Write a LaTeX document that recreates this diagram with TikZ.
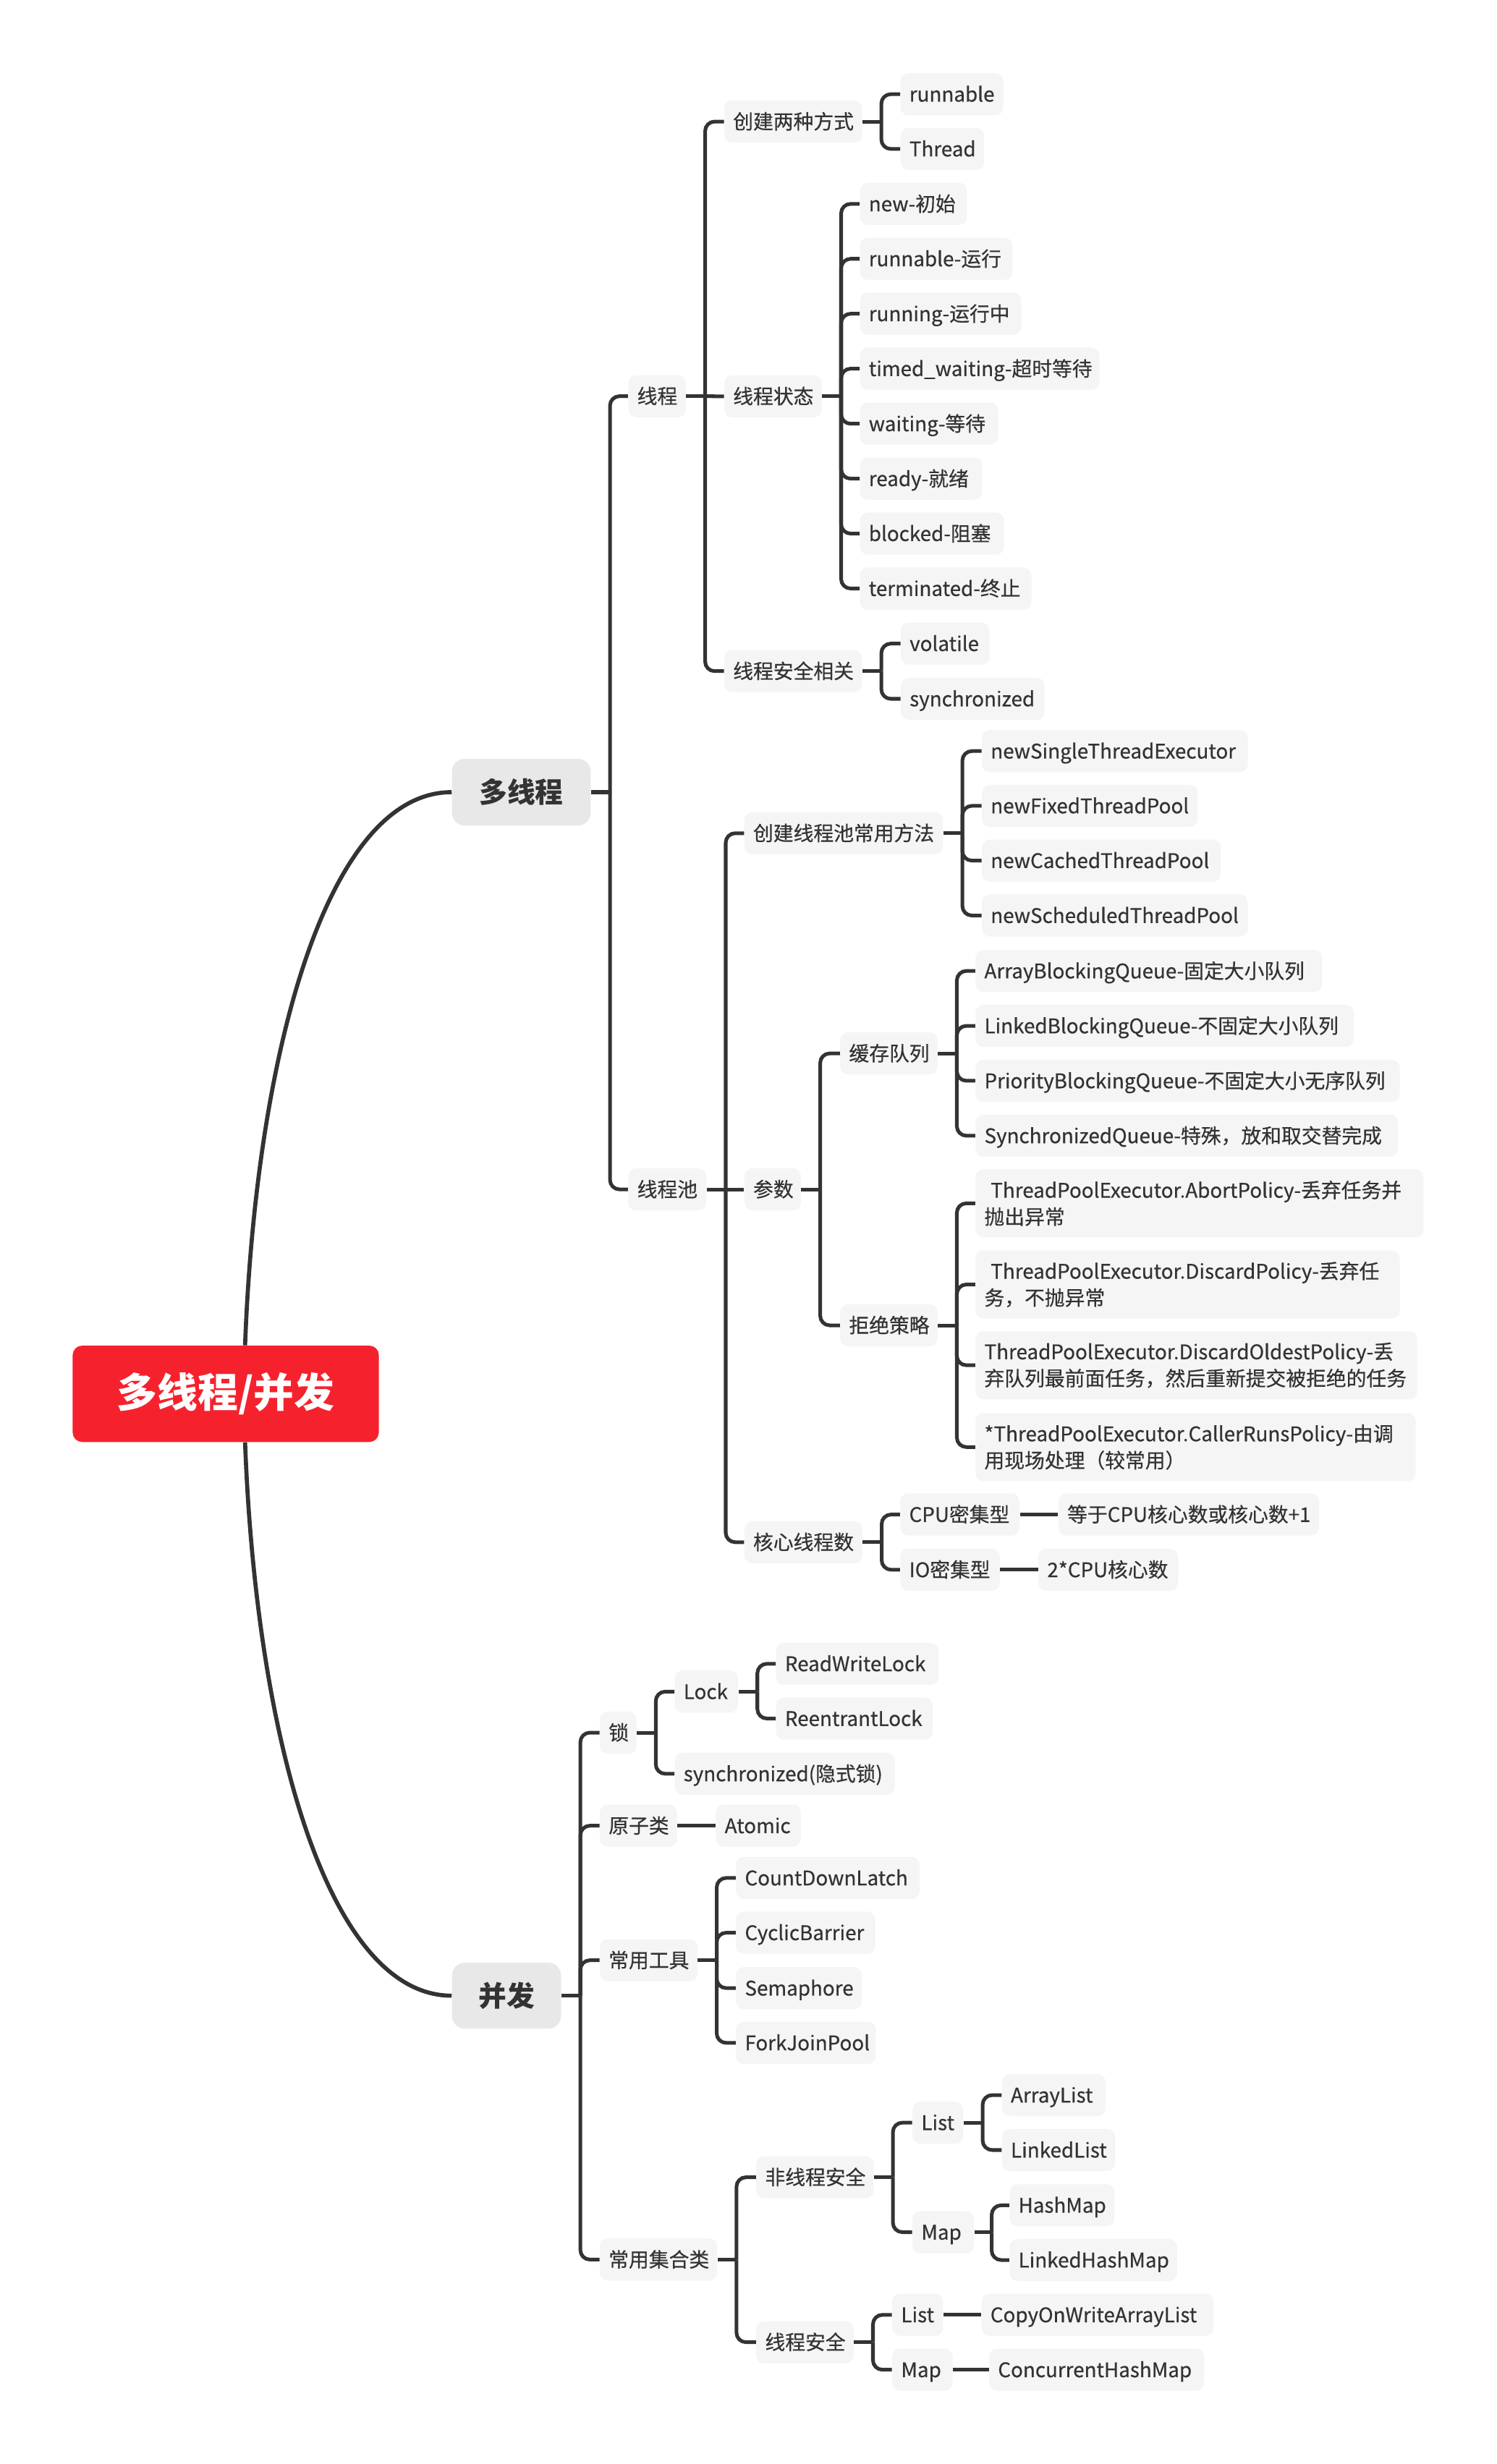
\documentclass[tikz,border=0pt]{standalone}
\usepackage{fontspec}
\setmainfont{Noto Sans CJK SC}
\newfontfamily\medfam[FakeBold=0.5]{Noto Sans CJK SC}
\definecolor{linec}{HTML}{333333}
\definecolor{txtc}{HTML}{333333}
\definecolor{boxc}{HTML}{F5F5F5}
\definecolor{mainc}{HTML}{E8E8E8}
\definecolor{rootc}{HTML}{F5222D}
\newcommand\myn{\medfam\fontsize{12.7}{16.8}\selectfont\exhyphenpenalty=10000 \hyphenpenalty=10000 }
\newcommand\mym{\fontsize{17.7}{20}\selectfont\bfseries}
\newcommand\myr{\fontsize{25.5}{28}\selectfont\bfseries}
\tikzset{
  conn/.style={draw=linec, line width=2.3pt},
  bconn/.style={conn, rounded corners=6pt},
  curvec/.style={draw=linec, line width=2.6pt},
  nd/.style={anchor=west, fill=boxc, rounded corners=5pt, text=txtc, font=\myn,
    inner xsep=5.6pt, inner ysep=0pt, minimum height=26.6pt,
    text height=10.2pt, text depth=0.8pt},
  ndtwo/.style={anchor=west, fill=boxc, rounded corners=5pt, text=txtc, font=\myn,
    inner xsep=5.6pt, inner ysep=0pt, minimum height=43pt, align=left},
  mainnd/.style={fill=mainc, rounded corners=8pt, text=txtc, font=\mym, inner sep=0pt},
  rootnd/.style={fill=rootc, rounded corners=6pt, text=white, font=\myr, inner sep=0pt},
}
% single-line node: name, left, right, y, text
\newcommand\mnode[5]{\pgfmathsetmacro\mytw{#3-#2-11.2}\node[nd] (#1) at (#2,#4) {\makebox[\mytw pt][l]{#5}};}
% two-line node
\newcommand\mnodetwo[5]{\pgfmathsetmacro\mytw{#3-#2-11.2}\node[ndtwo,text width=\mytw pt] (#1) at (#2,#4) {#5};}
\begin{document}
\begin{tikzpicture}[x=1pt,y=-1pt]
\fill[white] (0,0) rectangle (945.16,1556.67);
\useasboundingbox (0,0) rectangle (945.16,1556.67);

% main nodes
\node[rootnd, minimum width=193.4pt, minimum height=60.9pt] (root) at (142.6,880.55) {多线程/并发};
\node[mainnd, minimum width=87.6pt, minimum height=42.1pt] (duo) at (329.3,500.45) {多线程};
\node[mainnd, minimum width=68.9pt, minimum height=41.6pt] (bf) at (319.95,1260.8) {并发};

% 多线程 branch
\mnode{xc}{396.7}{433}{250.3}{线程}
\mnode{xcc}{396.7}{446}{751.4}{线程池}
\mnode{cjfs}{457.3}{544.3}{76.8}{创建两种方式}
\mnode{zt}{457.3}{518.9}{250.4}{线程状态}
\mnode{aq}{457.3}{544.3}{424}{线程安全相关}
\mnode{rn}{568.6}{633.5}{59.5}{runnable}
\mnode{th}{568.6}{621.3}{94.1}{Thread}
\mnode{s1}{543}{610.6}{128.8}{new-初始}
\mnode{s2}{543}{639.4}{163.5}{runnable-运行}
\mnode{s3}{543}{645}{198.2}{running-运行中}
\mnode{s4}{543}{694.2}{232.9}{timed\_waiting-超时等待}
\mnode{s5}{543}{630.3}{267.7}{waiting-等待}
\mnode{s6}{543}{620.2}{302.4}{ready-就绪}
\mnode{s7}{543}{634}{337.1}{blocked-阻塞}
\mnode{s8}{543}{651.3}{371.8}{terminated-终止}
\mnode{vol}{568.8}{624.8}{406.6}{volatile}
\mnode{syn}{568.8}{659.6}{441.5}{synchronized}

\mnode{cjff}{470}{595.5}{526.4}{创建线程池常用方法}
\mnode{cs}{470}{505.7}{751.4}{参数}
\mnode{hx}{470}{544.5}{974.3}{核心线程数}
\mnode{p1}{620}{788}{474.5}{newSingleThreadExecutor}
\mnode{p2}{620}{756.4}{509.1}{newFixedThreadPool}
\mnode{p3}{620}{771}{543.7}{newCachedThreadPool}
\mnode{p4}{620}{788}{578.4}{newScheduledThreadPool}
\mnode{hc}{530.5}{592}{665.5}{缓存队列}
\mnode{jj}{530.5}{592}{837.3}{拒绝策略}
\mnode{q1}{616}{835}{613.4}{ArrayBlockingQueue-固定大小队列}
\mnode{q2}{616}{854.9}{648.1}{LinkedBlockingQueue-不固定大小队列}
\mnode{q3}{616}{884}{682.8}{PriorityBlockingQueue-不固定大小无序队列}
\mnode{q4}{616}{883}{717.5}{SynchronizedQueue-特殊，放和取交替完成}
\mnodetwo{r1}{616}{899}{760.2}{\hspace*{4pt}ThreadPoolExecutor.AbortPolicy-丢弃任务并\\抛出异常}
\mnodetwo{r2}{616}{884}{811.5}{\hspace*{4pt}ThreadPoolExecutor.DiscardPolicy-丢弃任\\务，不抛异常}
\mnodetwo{r3}{616}{895}{862.5}{ThreadPoolExecutor.DiscardOldestPolicy-丢\\弃队列最前面任务，然后重新提交被拒绝的任务}
\mnodetwo{r4}{616}{894}{914.2}{*ThreadPoolExecutor.CallerRunsPolicy-由调\\用现场处理（较常用）}
\mnode{cpu}{568.5}{643.8}{956.8}{CPU密集型}
\mnode{io}{568.5}{631.4}{991.7}{IO密集型}
\mnode{dy}{668.4}{833}{956.8}{等于CPU核心数或核心数+1}
\mnode{tc}{655.7}{744}{991.7}{2*CPU核心数}

% 并发 branch
\mnode{suo}{378.7}{401.8}{1094.6}{锁}
\mnode{yzl}{378.7}{427.5}{1153.4}{原子类}
\mnode{gj}{378.7}{440.3}{1238.4}{常用工具}
\mnode{jh}{378.7}{452.8}{1427.5}{常用集合类}
\mnode{lock}{426}{466}{1068.7}{Lock}
\mnode{synimp}{426}{565}{1120.6}{synchronized(隐式锁)}
\mnode{rwl}{490}{592.6}{1051.1}{ReadWriteLock}
\mnode{rel}{490}{589}{1085.7}{ReentrantLock}
\mnode{atom}{452}{505.7}{1153.4}{Atomic}
\mnode{t1}{464.7}{580.7}{1186.4}{CountDownLatch}
\mnode{t2}{464.7}{552.6}{1221}{CyclicBarrier}
\mnode{t3}{464.7}{544.2}{1256}{Semaphore}
\mnode{t4}{464.7}{553}{1290.6}{ForkJoinPool}
\mnode{fx}{477.5}{551.6}{1375.5}{非线程安全}
\mnode{xa}{477.5}{539}{1479.7}{线程安全}
\mnode{l1}{576.2}{608.3}{1341}{List}
\mnode{m1}{576.2}{615}{1410.2}{Map}
\mnode{al}{632.7}{698}{1323.6}{ArrayList}
\mnode{ll}{632.7}{704.2}{1358.3}{LinkedList}
\mnode{hm}{637.5}{703.8}{1393.2}{HashMap}
\mnode{lhm}{637.5}{743.3}{1427.8}{LinkedHashMap}
\mnode{l2}{563.4}{595.5}{1462.4}{List}
\mnode{m2}{563.4}{601.5}{1497.1}{Map}
\mnode{cow}{619.8}{766.4}{1462.4}{CopyOnWriteArrayList}
\mnode{chm}{624.6}{760.3}{1497.1}{ConcurrentHashMap}

% root curves
\draw[curvec] ([xshift=12.2pt]root.north) .. controls (162,660) and (208,500.45) .. (duo.west);
\draw[curvec] ([xshift=12.2pt]root.south) .. controls (162,1101) and (208,1260.8) .. (bf.west);

% bus coordinates
\coordinate (b0) at ([xshift=12pt]duo.east);
\coordinate (b1) at ([xshift=12pt]xc.east);
\coordinate (b2) at ([xshift=12pt]cjfs.east);
\coordinate (b3) at ([xshift=12pt]zt.east);
\coordinate (b4) at ([xshift=12pt]aq.east);
\coordinate (b5) at ([xshift=12pt]xcc.east);
\coordinate (b6) at ([xshift=12pt]cjff.east);
\coordinate (b7) at ([xshift=12pt]cs.east);
\coordinate (b8) at ([xshift=12pt]hc.east);
\coordinate (b9) at ([xshift=12pt]jj.east);
\coordinate (b10) at ([xshift=12pt]hx.east);
\coordinate (b11) at ([xshift=12pt]bf.east);
\coordinate (b12) at ([xshift=12pt]suo.east);
\coordinate (b13) at ([xshift=12pt]lock.east);
\coordinate (b14) at ([xshift=12pt]gj.east);
\coordinate (b15) at ([xshift=12pt]jh.east);
\coordinate (b16) at ([xshift=12pt]fx.east);
\coordinate (b17) at ([xshift=12pt]l1.east);
\coordinate (b18) at ([xshift=11pt]m1.east);
\coordinate (b19) at ([xshift=12pt]xa.east);

% stubs
\foreach \p/\b in {duo/b0,xc/b1,cjfs/b2,zt/b3,aq/b4,xcc/b5,cjff/b6,cs/b7,hc/b8,jj/b9,hx/b10,bf/b11,suo/b12,lock/b13,gj/b14,jh/b15,fx/b16,l1/b17,m1/b18,xa/b19}
  \draw[conn] (\p.east) -- (\b);

% branches
\foreach \b/\c in {b0/xc,b0/xcc,b1/cjfs,b1/aq,b2/rn,b2/th,
  b3/s1,b3/s2,b3/s3,b3/s4,b3/s5,b3/s6,b3/s7,b3/s8,b4/vol,b4/syn,
  b5/cjff,b5/hx,b6/p1,b6/p2,b6/p3,b6/p4,b7/hc,b7/jj,
  b8/q1,b8/q2,b8/q3,b8/q4,b9/r1,b9/r2,b9/r3,b9/r4,b10/cpu,b10/io,
  b11/suo,b11/yzl,b11/gj,b11/jh,b12/lock,b12/synimp,b13/rwl,b13/rel,
  b14/t1,b14/t2,b14/t3,b14/t4,b15/fx,b15/xa,b16/l1,b16/m1,
  b17/al,b17/ll,b18/hm,b18/lhm,b19/l2,b19/m2}
  \draw[bconn] (\b) |- (\c.west);
\draw[conn] (b1) -- (zt.west);
\draw[conn] (b5) -- (cs.west);

% straight links
\draw[conn] (cpu.east) -- (dy.west);
\draw[conn] (io.east) -- (tc.west);
\draw[conn] (yzl.east) -- (atom.west);
\draw[conn] (l2.east) -- (cow.west);
\draw[conn] (m2.east) -- (chm.west);
\end{tikzpicture}
\end{document}
